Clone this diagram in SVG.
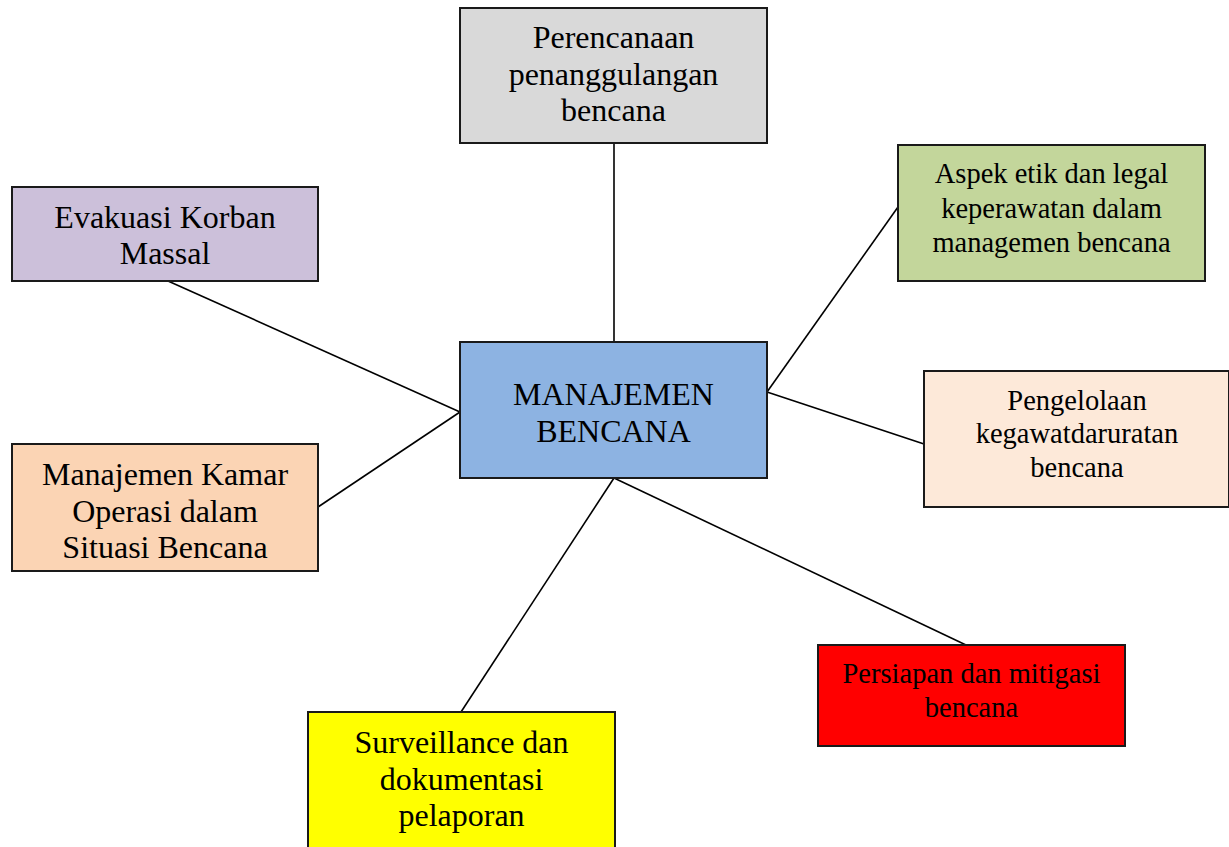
<svg xmlns="http://www.w3.org/2000/svg" width="1229" height="847" viewBox="0 0 1229 847">
<style>
.box{stroke:#1a1a1a;stroke-width:2}
.lg{font-family:"Liberation Serif","Times New Roman",serif;font-size:32px;fill:#000;text-anchor:middle}
.sm{font-family:"Liberation Serif","Times New Roman",serif;font-size:28.5px;fill:#000;text-anchor:middle}
.conn line{stroke:#000;stroke-width:1.6}
</style>
<rect width="1229" height="847" fill="#fff"/>
<g id="connectors" class="conn">
<line x1="614" y1="143" x2="614" y2="342"/>
<line x1="168" y1="281" x2="460" y2="412"/>
<line x1="318" y1="507" x2="460" y2="412"/>
<line x1="898" y1="207" x2="767" y2="392"/>
<line x1="767" y1="392" x2="924" y2="444"/>
<line x1="614" y1="478" x2="966" y2="645"/>
<line x1="614" y1="478" x2="461" y2="712"/>
</g>
<g id="perencanaan">
<rect class="box" x="460" y="8" width="307" height="135" fill="#d9d9d9"/>
<text class="lg" x="613.5" y="48">Perencanaan</text>
<text class="lg" x="613.5" y="85">penanggulangan</text>
<text class="lg" x="613.5" y="121">bencana</text>
</g>
<g id="evakuasi">
<rect class="box" x="12" y="187" width="306" height="94" fill="#ccc0da"/>
<text class="lg" x="165" y="228">Evakuasi Korban</text>
<text class="lg" x="165" y="264">Massal</text>
</g>
<g id="aspek">
<rect class="box" x="898" y="145" width="307" height="136" fill="#c3d69b"/>
<text class="sm" x="1051.5" y="183">Aspek etik dan legal</text>
<text class="sm" x="1051.5" y="218">keperawatan dalam</text>
<text class="sm" x="1051.5" y="252">managemen bencana</text>
</g>
<g id="manajemen-bencana">
<rect class="box" x="460" y="342" width="307" height="136" fill="#8db3e2"/>
<text class="lg" x="613.5" y="405">MANAJEMEN</text>
<text class="lg" x="613.5" y="442">BENCANA</text>
</g>
<g id="pengelolaan">
<rect class="box" x="924" y="371" width="305" height="136" fill="#fde9d9"/>
<text class="sm" x="1077" y="410">Pengelolaan</text>
<text class="sm" x="1077" y="443">kegawatdaruratan</text>
<text class="sm" x="1077" y="477">bencana</text>
</g>
<g id="kamar-operasi">
<rect class="box" x="12" y="444" width="306" height="127" fill="#fbd4b4"/>
<text class="lg" x="165" y="485">Manajemen Kamar</text>
<text class="lg" x="165" y="522">Operasi dalam</text>
<text class="lg" x="165" y="558">Situasi Bencana</text>
</g>
<g id="persiapan">
<rect class="box" x="818" y="645" width="307" height="101" fill="#ff0000"/>
<text class="sm" x="971.5" y="683">Persiapan dan mitigasi</text>
<text class="sm" x="971.5" y="717">bencana</text>
</g>
<g id="surveillance">
<rect class="box" x="308" y="712" width="307" height="145" fill="#ffff00"/>
<text class="lg" x="461.5" y="753">Surveillance dan</text>
<text class="lg" x="461.5" y="790">dokumentasi</text>
<text class="lg" x="461.5" y="826">pelaporan</text>
</g>
</svg>
